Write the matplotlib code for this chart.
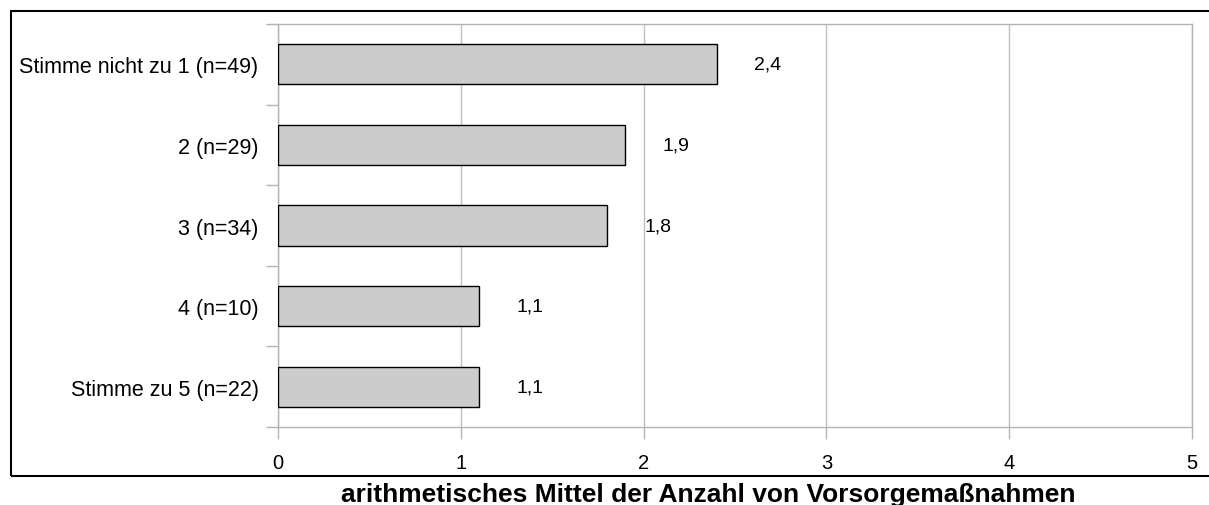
import matplotlib.pyplot as plt
import matplotlib.patches as mpatches
from matplotlib.ticker import FixedLocator

plt.rcParams['font.family'] = ['Liberation Sans', 'DejaVu Sans']

categories = ["Stimme nicht zu 1 (n=49)", "2 (n=29)", "3 (n=34)", "4 (n=10)", "Stimme zu 5 (n=22)"]
values = [2.4, 1.9, 1.8, 1.1, 1.1]
value_labels = ["2,4", "1,9", "1,8", "1,1", "1,1"]
xticks = [0, 1, 2, 3, 4, 5]
xlabel = "arithmetisches Mittel der Anzahl von Vorsorgemaßnahmen"

fig = plt.figure(figsize=(12.09, 5.06), dpi=100)
ax = fig.add_axes([278 / 1209, 1 - 428 / 506, (1192 - 278) / 1209, (428 - 25) / 506])

y = list(range(len(categories)))
ax.barh(y, values, height=0.5, color='#cccccc', edgecolor='black', linewidth=1, zorder=3)
for yi, v, lab in zip(y, values, value_labels):
    ax.annotate(lab, (v, yi), xytext=(27, 0), textcoords='offset points',
                ha='left', va='center', fontsize=14)

ax.set_xlim(0, 5)
ax.set_ylim(len(categories) - 0.5, -0.5)
ax.set_xticks(xticks)
ax.set_xticklabels([str(t) for t in xticks])
ax.set_yticks(y)
ax.set_yticklabels(categories)
ax.yaxis.set_minor_locator(FixedLocator([i - 0.5 for i in range(len(categories) + 1)]))
ax.tick_params(axis='y', which='major', length=0, pad=14, labelsize=15.5)
ax.tick_params(axis='y', which='minor', length=8.5, color='#b3b3b3', width=1)
ax.tick_params(axis='x', which='major', length=8.5, color='#b3b3b3', width=1, pad=10, labelsize=14.5)
ax.grid(axis='x', color='#c0c0c0', linewidth=1, zorder=0)
for s in ax.spines.values():
    s.set_color('#b3b3b3')
    s.set_linewidth(1)

# outer frame of the chart
fig.patches.append(mpatches.Rectangle((11 / 1209, 1 - 477 / 506), 1.1, (477 - 12) / 506,
                                      transform=fig.transFigure, fill=False,
                                      edgecolor='black', linewidth=1.5, clip_on=False))
fig.text(708 / 1209, 1 - 502 / 506, xlabel, ha='center', va='baseline', fontsize=19, fontweight='bold')

fig.savefig('out.png', dpi=100)
